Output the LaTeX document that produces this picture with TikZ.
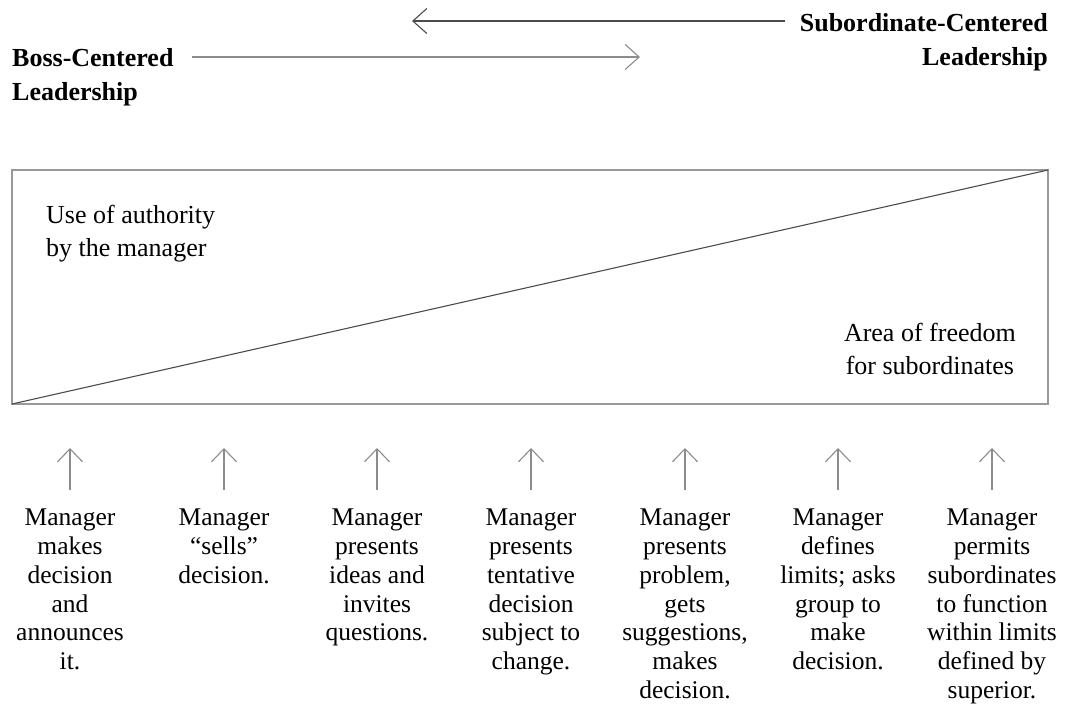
\documentclass[tikz,border=0pt]{standalone}
\usepackage{fontspec}
\setmainfont{Liberation Serif}
\usetikzlibrary{arrows.meta}
\begin{document}
\begin{tikzpicture}[x=1pt,y=-1pt,
  lbl/.style={inner sep=0pt, font=\fontsize{25.5}{28.7}\selectfont, align=center, anchor=north},
  inbox/.style={inner sep=0pt, font=\fontsize{26}{33}\selectfont},
  headtxt/.style={inner sep=0pt, font=\fontsize{26}{34}\selectfont\bfseries},
  frame/.style={draw=black!40, line width=1.3pt},
  diag/.style={draw=black!70, line width=1.1pt},
  longarrow/.style={line width=1.2pt, -{Straight Barb[length=14pt,width=25pt,line width=1.1pt]}},
  uparrow/.style={draw=black!45, line width=1.2pt, -{Straight Barb[length=13pt,width=25pt,line width=1.1pt]}}
]
\useasboundingbox (0,0) rectangle (1065,706);

% headings
\node[headtxt, align=right, anchor=north east] (sub) at (1048,13) {Subordinate-Centered\\Leadership};
\node[headtxt, align=left, anchor=north west] (boss) at (12,48) {Boss-Centered\\Leadership};

% long arrows
\coordinate (la) at (785,21);
\coordinate (lb) at (412,21);
\coordinate (ra) at (192,57);
\coordinate (rb) at (640,57);
\draw[longarrow, draw=black!70] (la) -- (lb);
\draw[longarrow, draw=black!45] (ra) -- (rb);

% box
\coordinate (bl) at (12,404);
\coordinate (tr) at (1048,170);
\draw[frame] (bl) rectangle (tr);
\draw[diag] (bl) -- (tr);

\node[inbox, align=left, anchor=north west] (auth) at (46,205) {Use of authority\\by the manager};
\node[inbox, align=center, anchor=north east] (free) at (1016,323) {Area of freedom\\for subordinates};

% columns
\foreach \i/\x/\t in {
  1/70/{Manager\\makes\\decision\\and\\announces\\it.},
  2/224/{Manager\\``sells''\\decision.},
  3/377/{Manager\\presents\\ideas and\\invites\\questions.},
  4/531/{Manager\\presents\\tentative\\decision\\subject to\\change.},
  5/685/{Manager\\presents\\problem,\\gets\\suggestions,\\makes\\decision.},
  6/838/{Manager\\defines\\limits; asks\\group to\\make\\decision.},
  7/992/{Manager\\permits\\subordinates\\to function\\within limits\\defined by\\superior.}}{
  \node[lbl] (c\i) at (\x,509) {\t};
  \coordinate (a\i) at (\x,490);
  \coordinate (b\i) at (\x,448);
  \draw[uparrow] (a\i) -- (b\i);
}
\end{tikzpicture}
\end{document}
